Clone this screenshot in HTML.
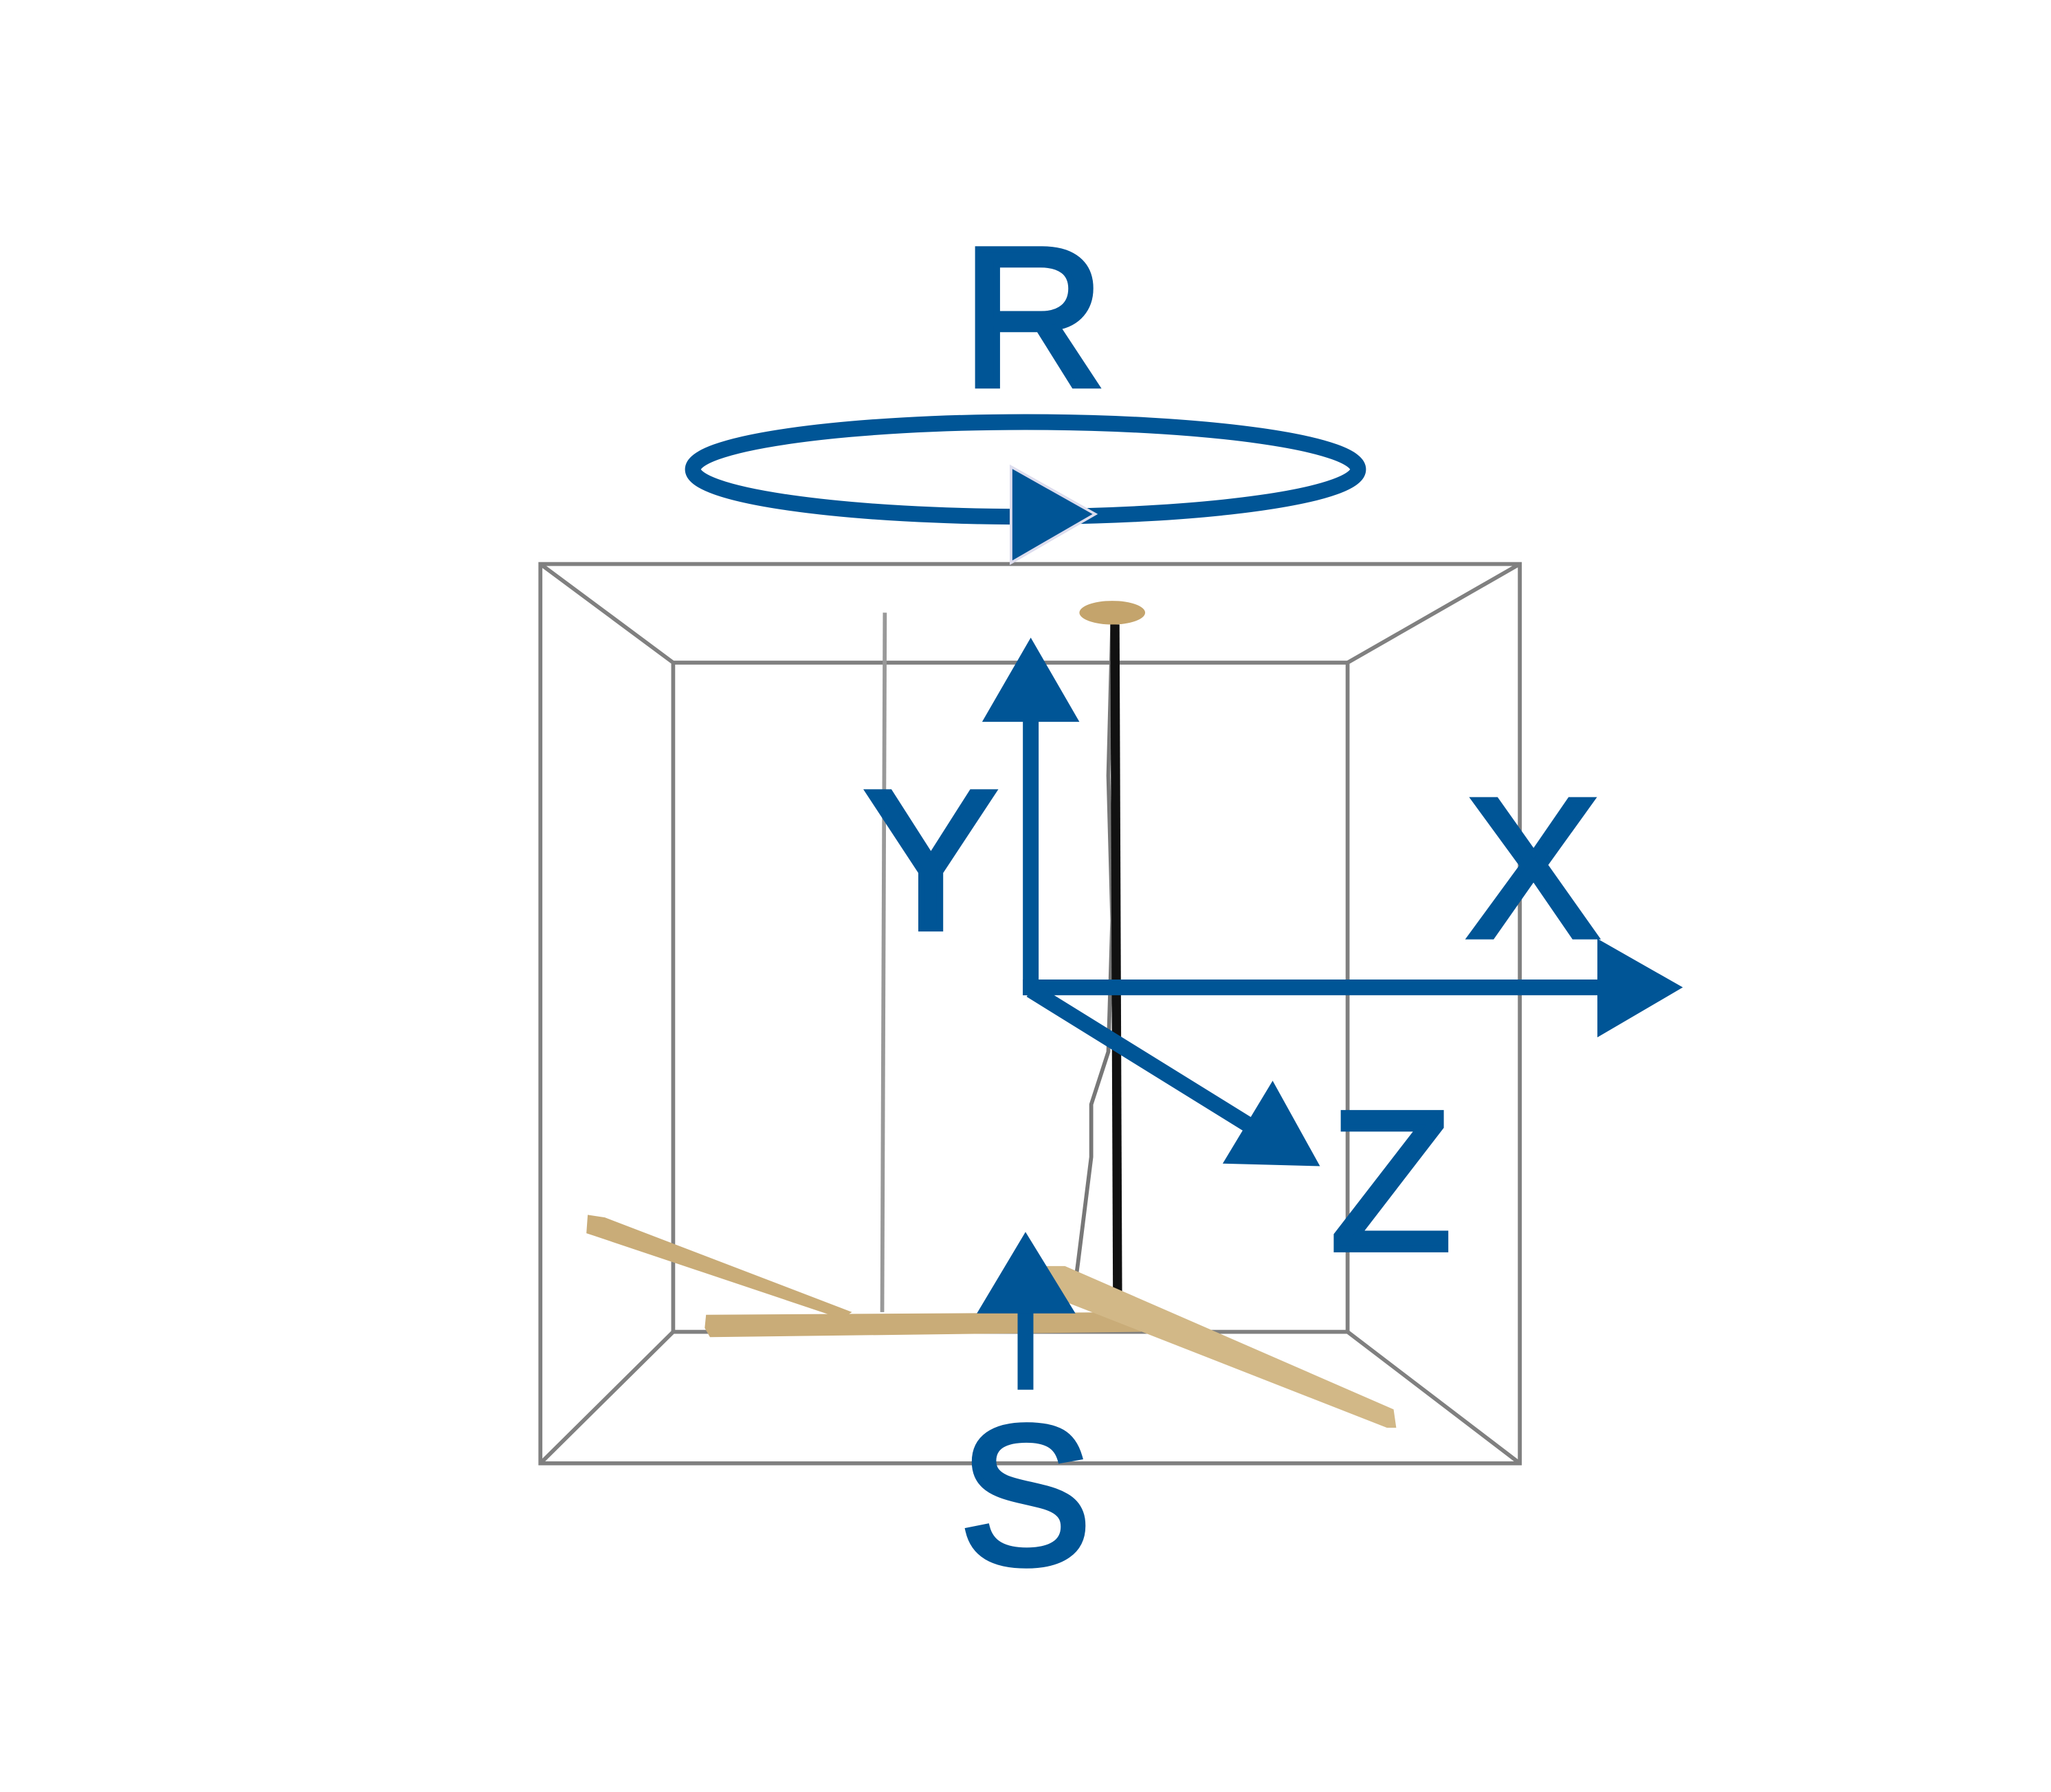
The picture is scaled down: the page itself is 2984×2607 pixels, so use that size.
<!DOCTYPE html>
<html><head><meta charset="utf-8"><style>
html,body{margin:0;padding:0;background:#fff;}
svg{display:block;}
text{font-family:"Liberation Sans",sans-serif;fill:#005596;stroke:#005596;stroke-width:5;}
</style></head><body>
<svg width="2984" height="2607" viewBox="0 0 1560 1363" xmlns="http://www.w3.org/2000/svg">
<rect width="1560" height="1363" fill="#fff"/>
<g stroke="#808080" stroke-width="3" fill="none">
<rect x="411" y="429" width="745" height="684"/>
<rect x="512" y="504" width="513" height="509"/>
<line x1="411" y1="429" x2="512" y2="504"/>
<line x1="1156" y1="429" x2="1025" y2="504"/>
<line x1="411" y1="1113" x2="512" y2="1013"/>
<line x1="1156" y1="1113" x2="1025" y2="1013"/>
</g>
<line x1="673" y1="466" x2="671" y2="998" stroke="#999" stroke-width="3"/>
<path d="M846,475 L843,590 L846,700 L843,800 L830,840 L830,880 L820,960 L818,975" stroke="#777" stroke-width="3" fill="none"/>
<line x1="848" y1="475" x2="850" y2="985" stroke="#111" stroke-width="7"/>
<ellipse cx="846" cy="466" rx="25" ry="9" fill="#c4a46c"/>
<polygon points="447,924 460,926 648,998 640,1003 452,940 446,938" fill="#c9ac78"/>
<polygon points="537,1000 868,998 868,1013 540,1017 536,1010" fill="#c9ac78"/>
<polygon points="795,963 810,963 1060,1072 1062,1086 1055,1086 810,990" fill="#d2b887"/>
<text x="786" y="293" font-size="150" text-anchor="middle">R</text>
<ellipse cx="780" cy="357" rx="253" ry="36" fill="none" stroke="#005596" stroke-width="12"/>
<polygon points="769,355 833,391 769,428" fill="#005596" stroke="#dde" stroke-width="2"/>
<line x1="784" y1="757" x2="784" y2="545" stroke="#005596" stroke-width="12"/>
<polygon points="747,549 784,485 821,549" fill="#005596"/>
<text x="708" y="706" font-size="150" text-anchor="middle">Y</text>
<line x1="778" y1="751" x2="1222" y2="751" stroke="#005596" stroke-width="12"/>
<polygon points="1215,714 1280,751 1215,789" fill="#005596"/>
<text x="1166" y="712" font-size="150" text-anchor="middle">X</text>
<line x1="784" y1="753" x2="960" y2="862" stroke="#005596" stroke-width="12"/>
<polygon points="930,885 968,822 1004,887" fill="#005596"/>
<text x="1058" y="950" font-size="150" text-anchor="middle">Z</text>
<line x1="780" y1="1057" x2="780" y2="995" stroke="#005596" stroke-width="12"/>
<polygon points="743,999 780,937 818,999" fill="#005596"/>
<text x="780" y="1189" font-size="150" text-anchor="middle">S</text>
</svg>
</body></html>
